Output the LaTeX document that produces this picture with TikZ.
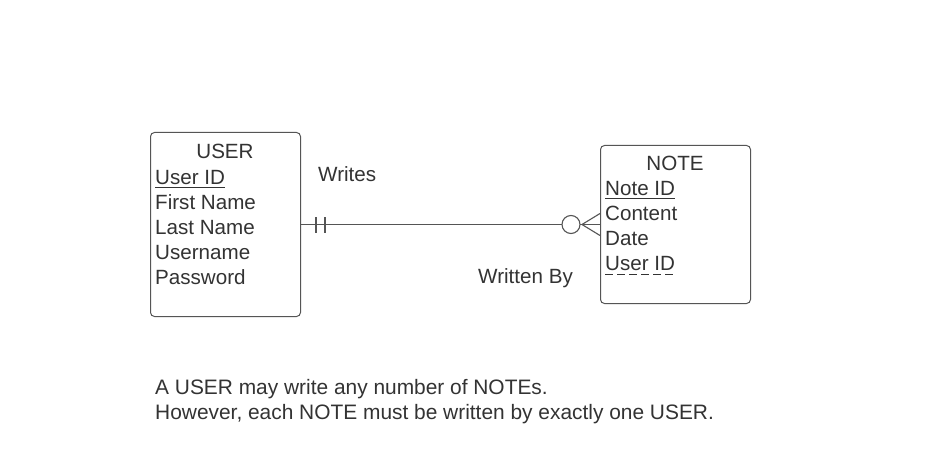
\documentclass[tikz,border=0pt]{standalone}
\usepackage{fontspec}
\setmainfont{Liberation Sans}
\begin{document}
\begin{tikzpicture}[x=1pt,y=-1pt,
  txt/.style={anchor=base west,inner sep=0pt,text=textc,font=\fontsize{20.6}{24}\selectfont},
  ctxt/.style={anchor=base,inner sep=0pt,text=textc,font=\fontsize{20.6}{24}\selectfont},
  btxt/.style={txt,font=\fontsize{20.9}{24}\selectfont},
  box/.style={draw=linec,line width=1pt,rounded corners=4pt,fill=white,inner sep=0pt},
  conn/.style={draw=linec,line width=1.1pt},
  ul/.style={draw=textc,line width=1pt}]
\definecolor{textc}{HTML}{333333}
\definecolor{linec}{HTML}{555555}
\useasboundingbox (0,0) rectangle (937,468);
\fill[white] (0,0) rectangle (937,468);
% boxes
\node[box,minimum width=150pt,minimum height=184pt,anchor=north west] (user) at (150,132) {};
\node[box,minimum width=150pt,minimum height=158pt,anchor=north west] (note) at (600,145) {};
% USER text
\node[ctxt] (ut) at (225,159) {USER};
\node[txt] (uid) at (155,184) {User ID};
\node[txt] (ufn) at (155,209) {First Name};
\node[txt] (uln) at (155,234) {Last Name};
\node[txt] (uun) at (155,259) {Username};
\node[txt] (upw) at (155,284) {Password};
\draw[ul] ([yshift=-3pt]uid.base west) -- ([yshift=-3pt]uid.base east);
% NOTE text
\node[ctxt] (nt) at (675,170) {NOTE};
\node[txt] (nid) at (605,195) {Note ID};
\node[txt] (nco) at (605,220) {Content};
\node[txt] (nda) at (605,245) {Date};
\node[txt] (nuid) at (605,270) {User ID};
\draw[ul] ([yshift=-3pt]nid.base west) -- ([yshift=-3pt]nid.base east);
\draw[ul,dash pattern=on 8pt off 4pt] ([yshift=-4pt]nuid.base west) -- ([yshift=-4pt]nuid.base east);
% connector
\draw[conn] (user.east) -- (note.west);
\draw[conn] ([xshift=15pt,yshift=-8pt]user.east) -- ([xshift=15pt,yshift=8pt]user.east);
\draw[conn] ([xshift=24pt,yshift=-8pt]user.east) -- ([xshift=24pt,yshift=8pt]user.east);
\coordinate (apex) at ([xshift=-18pt]note.west);
\draw[conn] ([yshift=11pt]note.west) -- (apex) -- ([yshift=-11pt]note.west);
\draw[conn,fill=white] ([xshift=-29pt]note.west) circle (9pt);
% labels
\node[txt] (writes) at (318,182) {Writes};
\node[txt] (wby) at (478,283) {Written By};
\node[btxt] (l1) at (155,394) {A USER may write any number of NOTEs.};
\node[btxt] (l2) at (155,419) {However, each NOTE must be written by exactly one USER.};
\end{tikzpicture}
\end{document}
